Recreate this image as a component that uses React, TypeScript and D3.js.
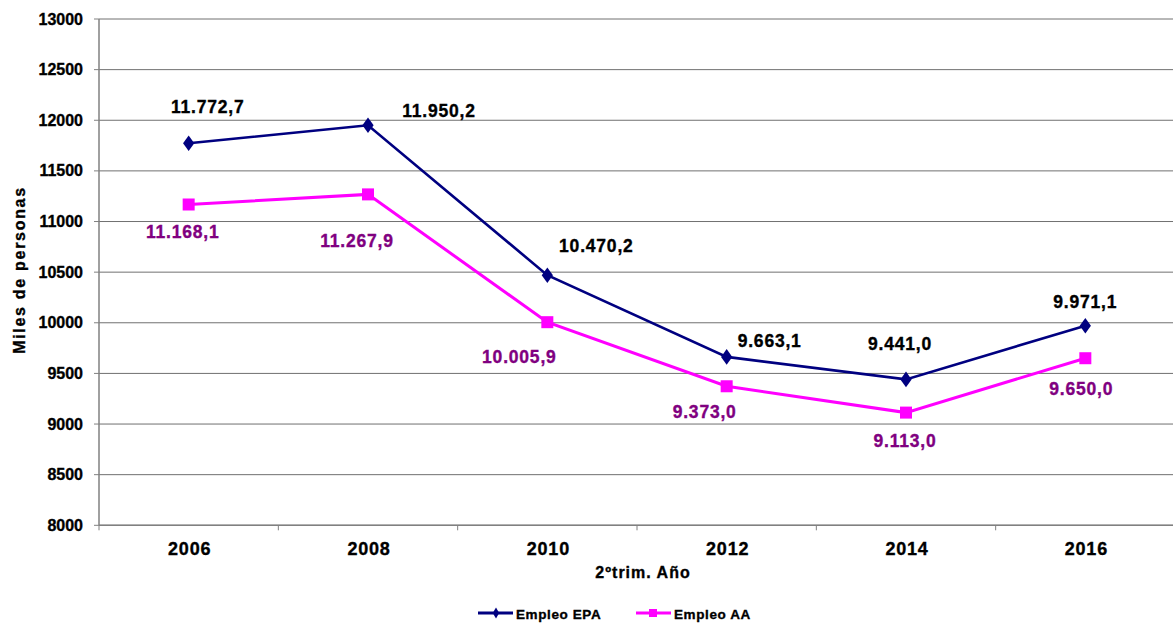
import React, { useEffect, useRef } from 'react';
import * as d3 from 'd3';

const years = ['2006', '2008', '2010', '2012', '2014', '2016'];
const empleoEPA = [11772.7, 11950.2, 10470.2, 9663.1, 9441.0, 9971.1];
const empleoAA = [11168.1, 11267.9, 10005.9, 9373.0, 9113.0, 9650.0];
const yTicks = [8000, 8500, 9000, 9500, 10000, 10500, 11000, 11500, 12000, 12500, 13000];

// label placement relative to each point (hand-tuned like the original chart)
const epaLabelOffsets: [number, number][] = [[19, -30], [71, -8], [49, -23], [43, -10], [-6, -29], [0, -18]];
const aaLabelOffsets: [number, number][] = [[-6, 34], [-11, 53], [-28, 41], [-22, 32], [-1, 34], [-4, 37]];

const esFormat = d3.formatLocale({ decimal: ',', thousands: '.', grouping: [3], currency: ['', ' €'] }).format(',.1f');

const FONT = '"Liberation Sans", Arial, sans-serif';

const App: React.FC = () => {
  const svgRef = useRef<SVGSVGElement>(null);

  useEffect(() => {
    if (!svgRef.current) return;
    const svg = d3.select(svgRef.current);
    svg.selectAll('*').remove();

    const left = 99;
    const right = 1175;
    const top = 19;
    const bottom = 525.3;

    const x = d3.scaleBand<string>().domain(years).range([left, right]).padding(0);
    const y = d3.scaleLinear().domain([8000, 13000]).range([bottom, top]);
    const cx = (d: string) => (x(d) ?? 0) + x.bandwidth() / 2;

    // heavier text, closer to the GDI bold of the original
    const heavy = (sel: d3.Selection<any, any, any, any>, color: string) =>
      sel.attr('fill', color).attr('stroke', color).attr('stroke-width', 0.35);

    // grid lines
    svg.append('g')
      .selectAll('line')
      .data(yTicks)
      .enter()
      .append('line')
      .attr('x1', left)
      .attr('x2', 1173)
      .attr('y1', d => y(d))
      .attr('y2', d => y(d))
      .attr('stroke', '#707070')
      .attr('stroke-width', 1);

    // y axis
    const yAxis = svg.append('g');
    yAxis.append('line')
      .attr('x1', left).attr('x2', left)
      .attr('y1', top).attr('y2', bottom)
      .attr('stroke', '#808080').attr('stroke-width', 1.5);
    yAxis.selectAll('.tick')
      .data(yTicks)
      .enter()
      .append('line')
      .attr('x1', left - 5).attr('x2', left)
      .attr('y1', d => y(d)).attr('y2', d => y(d))
      .attr('stroke', '#808080');
    heavy(yAxis.selectAll('text')
      .data(yTicks)
      .enter()
      .append('text')
      .attr('x', 83)
      .attr('y', d => y(d) + 5.5)
      .attr('text-anchor', 'end')
      .attr('font-family', FONT)
      .attr('font-weight', 'bold')
      .attr('font-size', 16)
      .text(d => d), '#000');

    // x axis
    const xAxis = svg.append('g');
    xAxis.append('line')
      .attr('x1', left).attr('x2', 1173)
      .attr('y1', bottom).attr('y2', bottom)
      .attr('stroke', '#808080').attr('stroke-width', 1.5);
    const boundaries = years.map(d => x(d) ?? 0);
    xAxis.selectAll('.tick')
      .data(boundaries)
      .enter()
      .append('line')
      .attr('x1', d => d).attr('x2', d => d)
      .attr('y1', bottom).attr('y2', bottom + 5)
      .attr('stroke', '#808080');
    heavy(xAxis.selectAll('text')
      .data(years)
      .enter()
      .append('text')
      .attr('x', d => cx(d) + 1)
      .attr('y', 555)
      .attr('text-anchor', 'middle')
      .attr('font-family', FONT)
      .attr('font-weight', 'bold')
      .attr('font-size', 18)
      .attr('letter-spacing', 0.8)
      .text(d => d), '#000');

    // axis titles
    heavy(svg.append('text')
      .attr('x', 643)
      .attr('y', 578)
      .attr('text-anchor', 'middle')
      .attr('font-family', FONT)
      .attr('font-weight', 'bold')
      .attr('font-size', 16)
      .attr('letter-spacing', 1)
      .text('2ºtrim. Año'), '#000');

    heavy(svg.append('text')
      .attr('transform', `translate(25, 270) rotate(-90)`)
      .attr('text-anchor', 'middle')
      .attr('font-family', FONT)
      .attr('font-weight', 'bold')
      .attr('font-size', 16)
      .attr('letter-spacing', 1.7)
      .text('Miles de personas'), '#000');

    const line = d3.line<number>()
      .x((_, i) => cx(years[i]))
      .y(d => y(d));

    // Empleo AA
    svg.append('path')
      .datum(empleoAA)
      .attr('d', line)
      .attr('fill', 'none')
      .attr('stroke', '#FF00FF')
      .attr('stroke-width', 3);
    svg.append('g')
      .selectAll('rect')
      .data(empleoAA)
      .enter()
      .append('rect')
      .attr('x', (_, i) => cx(years[i]) - 6)
      .attr('y', d => y(d) - 6)
      .attr('width', 12)
      .attr('height', 12)
      .attr('fill', '#FF00FF');

    // Empleo EPA
    svg.append('path')
      .datum(empleoEPA)
      .attr('d', line)
      .attr('fill', 'none')
      .attr('stroke', '#000080')
      .attr('stroke-width', 2.6);
    const diamond = d3.symbol().type(d3.symbolDiamond).size(70);
    svg.append('g')
      .selectAll('path')
      .data(empleoEPA)
      .enter()
      .append('path')
      .attr('d', diamond)
      .attr('transform', (d, i) => `translate(${cx(years[i])},${y(d)}) scale(1.25,1)`)
      .attr('fill', '#000080');

    // data labels
    heavy(svg.append('g')
      .selectAll('text')
      .data(empleoEPA)
      .enter()
      .append('text')
      .attr('x', (_, i) => cx(years[i]) + epaLabelOffsets[i][0])
      .attr('y', (d, i) => y(d) + epaLabelOffsets[i][1])
      .attr('text-anchor', 'middle')
      .attr('font-family', FONT)
      .attr('font-weight', 'bold')
      .attr('font-size', 17.5)
      .attr('letter-spacing', 0.8)
      .text(d => esFormat(d)), '#000');

    heavy(svg.append('g')
      .selectAll('text')
      .data(empleoAA)
      .enter()
      .append('text')
      .attr('x', (_, i) => cx(years[i]) + aaLabelOffsets[i][0])
      .attr('y', (d, i) => y(d) + aaLabelOffsets[i][1])
      .attr('text-anchor', 'middle')
      .attr('font-family', FONT)
      .attr('font-weight', 'bold')
      .attr('font-size', 17.5)
      .attr('letter-spacing', 0.8)
      .text(d => esFormat(d)), '#800080');

    // legend
    const legend = svg.append('g');
    const items = [
      { name: 'Empleo EPA', color: '#000080', x0: 478, marker: 'diamond' },
      { name: 'Empleo AA', color: '#FF00FF', x0: 636, marker: 'square' },
    ];
    items.forEach(it => {
      legend.append('line')
        .attr('x1', it.x0).attr('x2', it.x0 + 35)
        .attr('y1', 613).attr('y2', 613)
        .attr('stroke', it.color).attr('stroke-width', 3);
      if (it.marker === 'diamond') {
        legend.append('path')
          .attr('d', d3.symbol().type(d3.symbolDiamond).size(36))
          .attr('transform', `translate(${it.x0 + 18},613)`)
          .attr('fill', it.color);
      } else {
        legend.append('rect')
          .attr('x', it.x0 + 13).attr('y', 609)
          .attr('width', 8).attr('height', 8)
          .attr('fill', it.color);
      }
      heavy(legend.append('text')
        .attr('x', it.x0 + 38)
        .attr('y', 619)
        .attr('font-family', FONT)
        .attr('font-weight', 'bold')
        .attr('font-size', 13.5)
        .attr('letter-spacing', 0.6)
        .text(it.name), '#000');
    });
  }, []);

  return (
    <svg
      ref={svgRef}
      width={1173}
      height={626}
      style={{ position: 'absolute', left: 0, top: 0, background: '#fff' }}
    />
  );
};

export default App;
